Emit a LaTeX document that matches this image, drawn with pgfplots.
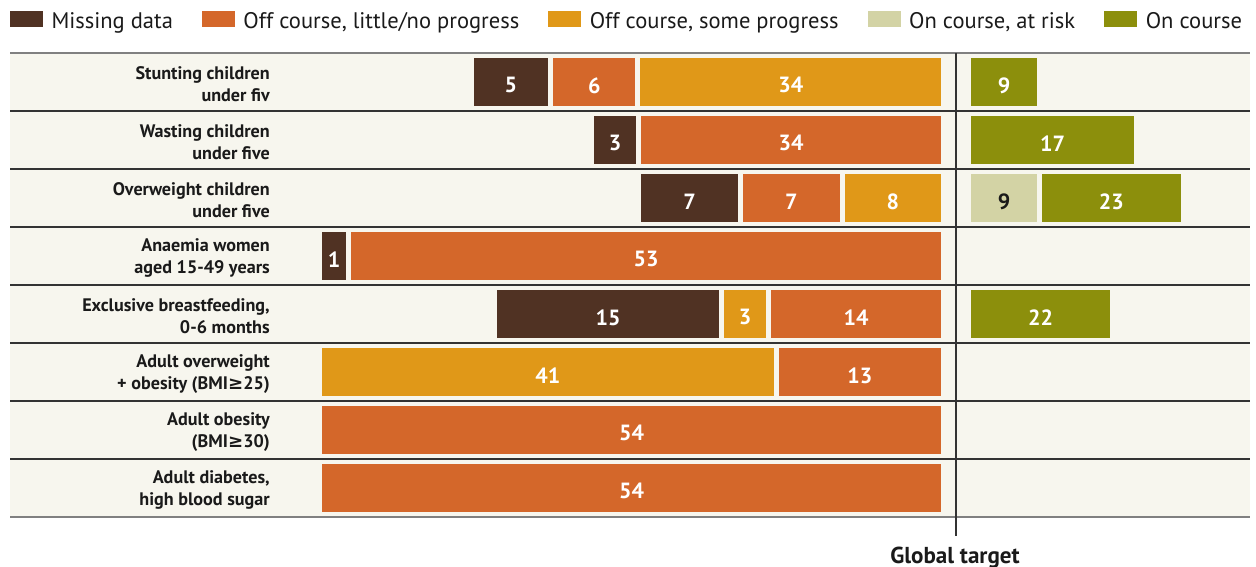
\documentclass[border=0pt]{standalone}
\usepackage{fontspec}
\setmainfont{PT Sans}
\newfontfamily\symf{DejaVu Sans}
\usepackage{pgfplots}
\usepackage{pgfplotstable}
\pgfplotsset{compat=1.18}
\definecolor{cbrown}{HTML}{503223}
\definecolor{corange}{HTML}{D4672A}
\definecolor{cyellow}{HTML}{E09818}
\definecolor{clight}{HTML}{D3D3A5}
\definecolor{colive}{HTML}{8C8F0C}
\definecolor{cbg}{HTML}{F7F6EE}
\definecolor{cline}{HTML}{333333}
\definecolor{ctext}{HTML}{1A1A1A}

% bar segment lengths (full bar = 54) and the printed values
\pgfplotstableread{
y  A      la  B      lb  C     lc  D      ld
1  0      {}  26.44  34  7.57  6   6.84   5
2  26.39  34  0      {}  0     {}  4.07   3
3  0      {}  8.78   8   8.78  7   8.83   7
4  51.49  53  0      {}  0     {}  2.51   1
5  15.14  14  4.07   3   0     {}  19.64  15
6  14.49  13  39.50  41  0     {}  0      {}
7  54     54  0      {}  0     {}  0      {}
8  54     54  0      {}  0     {}  0      {}
}\lefttable
\pgfplotstableread{
y  E     le  F      lf
1  0     {}  6.14   9
2  0     {}  14.54  17
3  6.14  9   12.46  23
4  0     {}  0      {}
5  0     {}  12.46  22
6  0     {}  0      {}
7  0     {}  0      {}
8  0     {}  0      {}
}\righttable

\pgfplotsset{
  rowaxis/.style={
    scale only axis, width=930bp, height=348bp,
    ymin=0.5, ymax=8.5, y dir=reverse,
    hide axis, clip=false,
  },
  bars/.style={xbar stacked, bar width=39.75bp},
  labs/.style={
    nodes near coords, point meta=explicit symbolic,
    every node near coord/.append style={anchor=center, yshift=-2.5bp,
      font=\fontsize{16.5bp}{18bp}\selectfont\bfseries, text=white, inner sep=0pt},
  },
  lab/.style={draw=none, mark=none},
  seg/.style={fill=#1, draw=cbg, line width=3.75bp},
}
\newcommand\sw[1]{\addlegendimage{legend image code/.code={\fill[#1] (0bp,-3.4bp) rectangle (24bp,7.85bp);}}}
\newcommand\rowlab[2]{\node[anchor=east, align=right, text=ctext, inner sep=0pt, yshift=-1.5bp,
  font=\fontsize{13.6bp}{16.5bp}\selectfont\bfseries] at (axis cs:-58.28,#1) {#2};}

\begin{document}
\begin{tikzpicture}
\useasboundingbox (0,0) rectangle (942bp,-425.25bp);
\fill[cbg] (7.5bp,-39.75bp) rectangle (937.5bp,-387.75bp);

% left bars (stacked leftwards from the baseline)
\begin{axis}[rowaxis, bars, at={(7.5bp,-387.75bp)}, anchor=south west,
  xmin=-80.78, xmax=26.52,
  legend columns=5, legend cell align=left,
  legend style={at={(0,1)}, anchor=west, yshift=24bp, draw=none, fill=none,
    inner sep=0pt, outer sep=0pt, nodes={inner sep=0pt, text=ctext},
    font=\fontsize{16.9bp}{18bp}\selectfont,
    /tikz/every odd column/.append style={column sep=6.75bp},
    /tikz/every even column/.append style={column sep=21.75bp}},
]
\sw{cbrown}\addlegendentry{Missing data}
\sw{corange}\addlegendentry{Off course, little/no progress}
\sw{cyellow}\addlegendentry{Off course, some progress}
\sw{clight}\addlegendentry{On course, at risk}
\sw{colive}\addlegendentry{On course}
\addplot[seg=corange, forget plot] table[x expr=-\thisrow{A}, y=y] {\lefttable};
\addplot[seg=cyellow, forget plot] table[x expr=-\thisrow{B}, y=y] {\lefttable};
\addplot[seg=corange, forget plot] table[x expr=-\thisrow{C}, y=y] {\lefttable};
\addplot[seg=cbrown, forget plot] table[x expr=-\thisrow{D}, y=y] {\lefttable};
\rowlab{1}{Stunting children\\under fiv}
\rowlab{2}{Wasting children\\under five}
\rowlab{3}{Overweight children\\under five}
\rowlab{4}{Anaemia women\\aged 15-49 years}
\rowlab{5}{Exclusive breastfeeding,\\0-6 months}
\rowlab{6}{Adult overweight\\+ obesity (BMI{\symf\bfseries ≥}25)}
\rowlab{7}{Adult obesity\\(BMI{\symf\bfseries ≥}30)}
\rowlab{8}{Adult diabetes,\\high blood sugar}
\end{axis}

% left value labels, centred in their segments
\begin{axis}[rowaxis, labs, at={(7.5bp,-387.75bp)}, anchor=south west,
  xmin=-80.78, xmax=26.52]
\addplot[lab] table[x expr={-\thisrow{A}/2}, y=y, meta=la] {\lefttable};
\addplot[lab] table[x expr={-(\thisrow{A}+\thisrow{B}/2)}, y=y, meta=lb] {\lefttable};
\addplot[lab] table[x expr={-(\thisrow{A}+\thisrow{B}+\thisrow{C}/2)}, y=y, meta=lc] {\lefttable};
\addplot[lab] table[x expr={-(\thisrow{A}+\thisrow{B}+\thisrow{C}+\thisrow{D}/2)}, y=y, meta=ld] {\lefttable};
\end{axis}

% right bars (global target side)
\begin{axis}[rowaxis, bars, at={(7.5bp,-387.75bp)}, anchor=south west,
  xmin=-82.94, xmax=24.36]
\addplot[seg=clight] table[x=E, y=y] {\righttable};
\addplot[seg=colive] table[x=F, y=y] {\righttable};
\end{axis}
\begin{axis}[rowaxis, labs, at={(7.5bp,-387.75bp)}, anchor=south west,
  xmin=-82.94, xmax=24.36]
\addplot[lab, every node near coord/.append style={text=ctext}] table[x expr={\thisrow{E}/2}, y=y, meta=le] {\righttable};
\addplot[lab] table[x expr={\thisrow{E}+\thisrow{F}/2}, y=y, meta=lf] {\righttable};
\end{axis}

\foreach \yy in {-83.25,-126.75,-170.25,-213.75,-257.25,-300.75,-344.25}
  \draw[cline, line width=1bp] (7.5bp,\yy*1bp) -- (937.5bp,\yy*1bp);
\draw[gray, line width=1.3bp] (7.5bp,-39.75bp) -- (937.5bp,-39.75bp);
\draw[gray, line width=1.3bp] (7.5bp,-387.75bp) -- (937.5bp,-387.75bp);
\draw[cline, line width=1bp] (717bp,-39.75bp) -- (717bp,-402bp);
\node[anchor=base, font=\fontsize{17.3bp}{20bp}\selectfont\bfseries, text=ctext]
  at (716.25bp,-422.25bp) {Global target};
\end{tikzpicture}
\end{document}
